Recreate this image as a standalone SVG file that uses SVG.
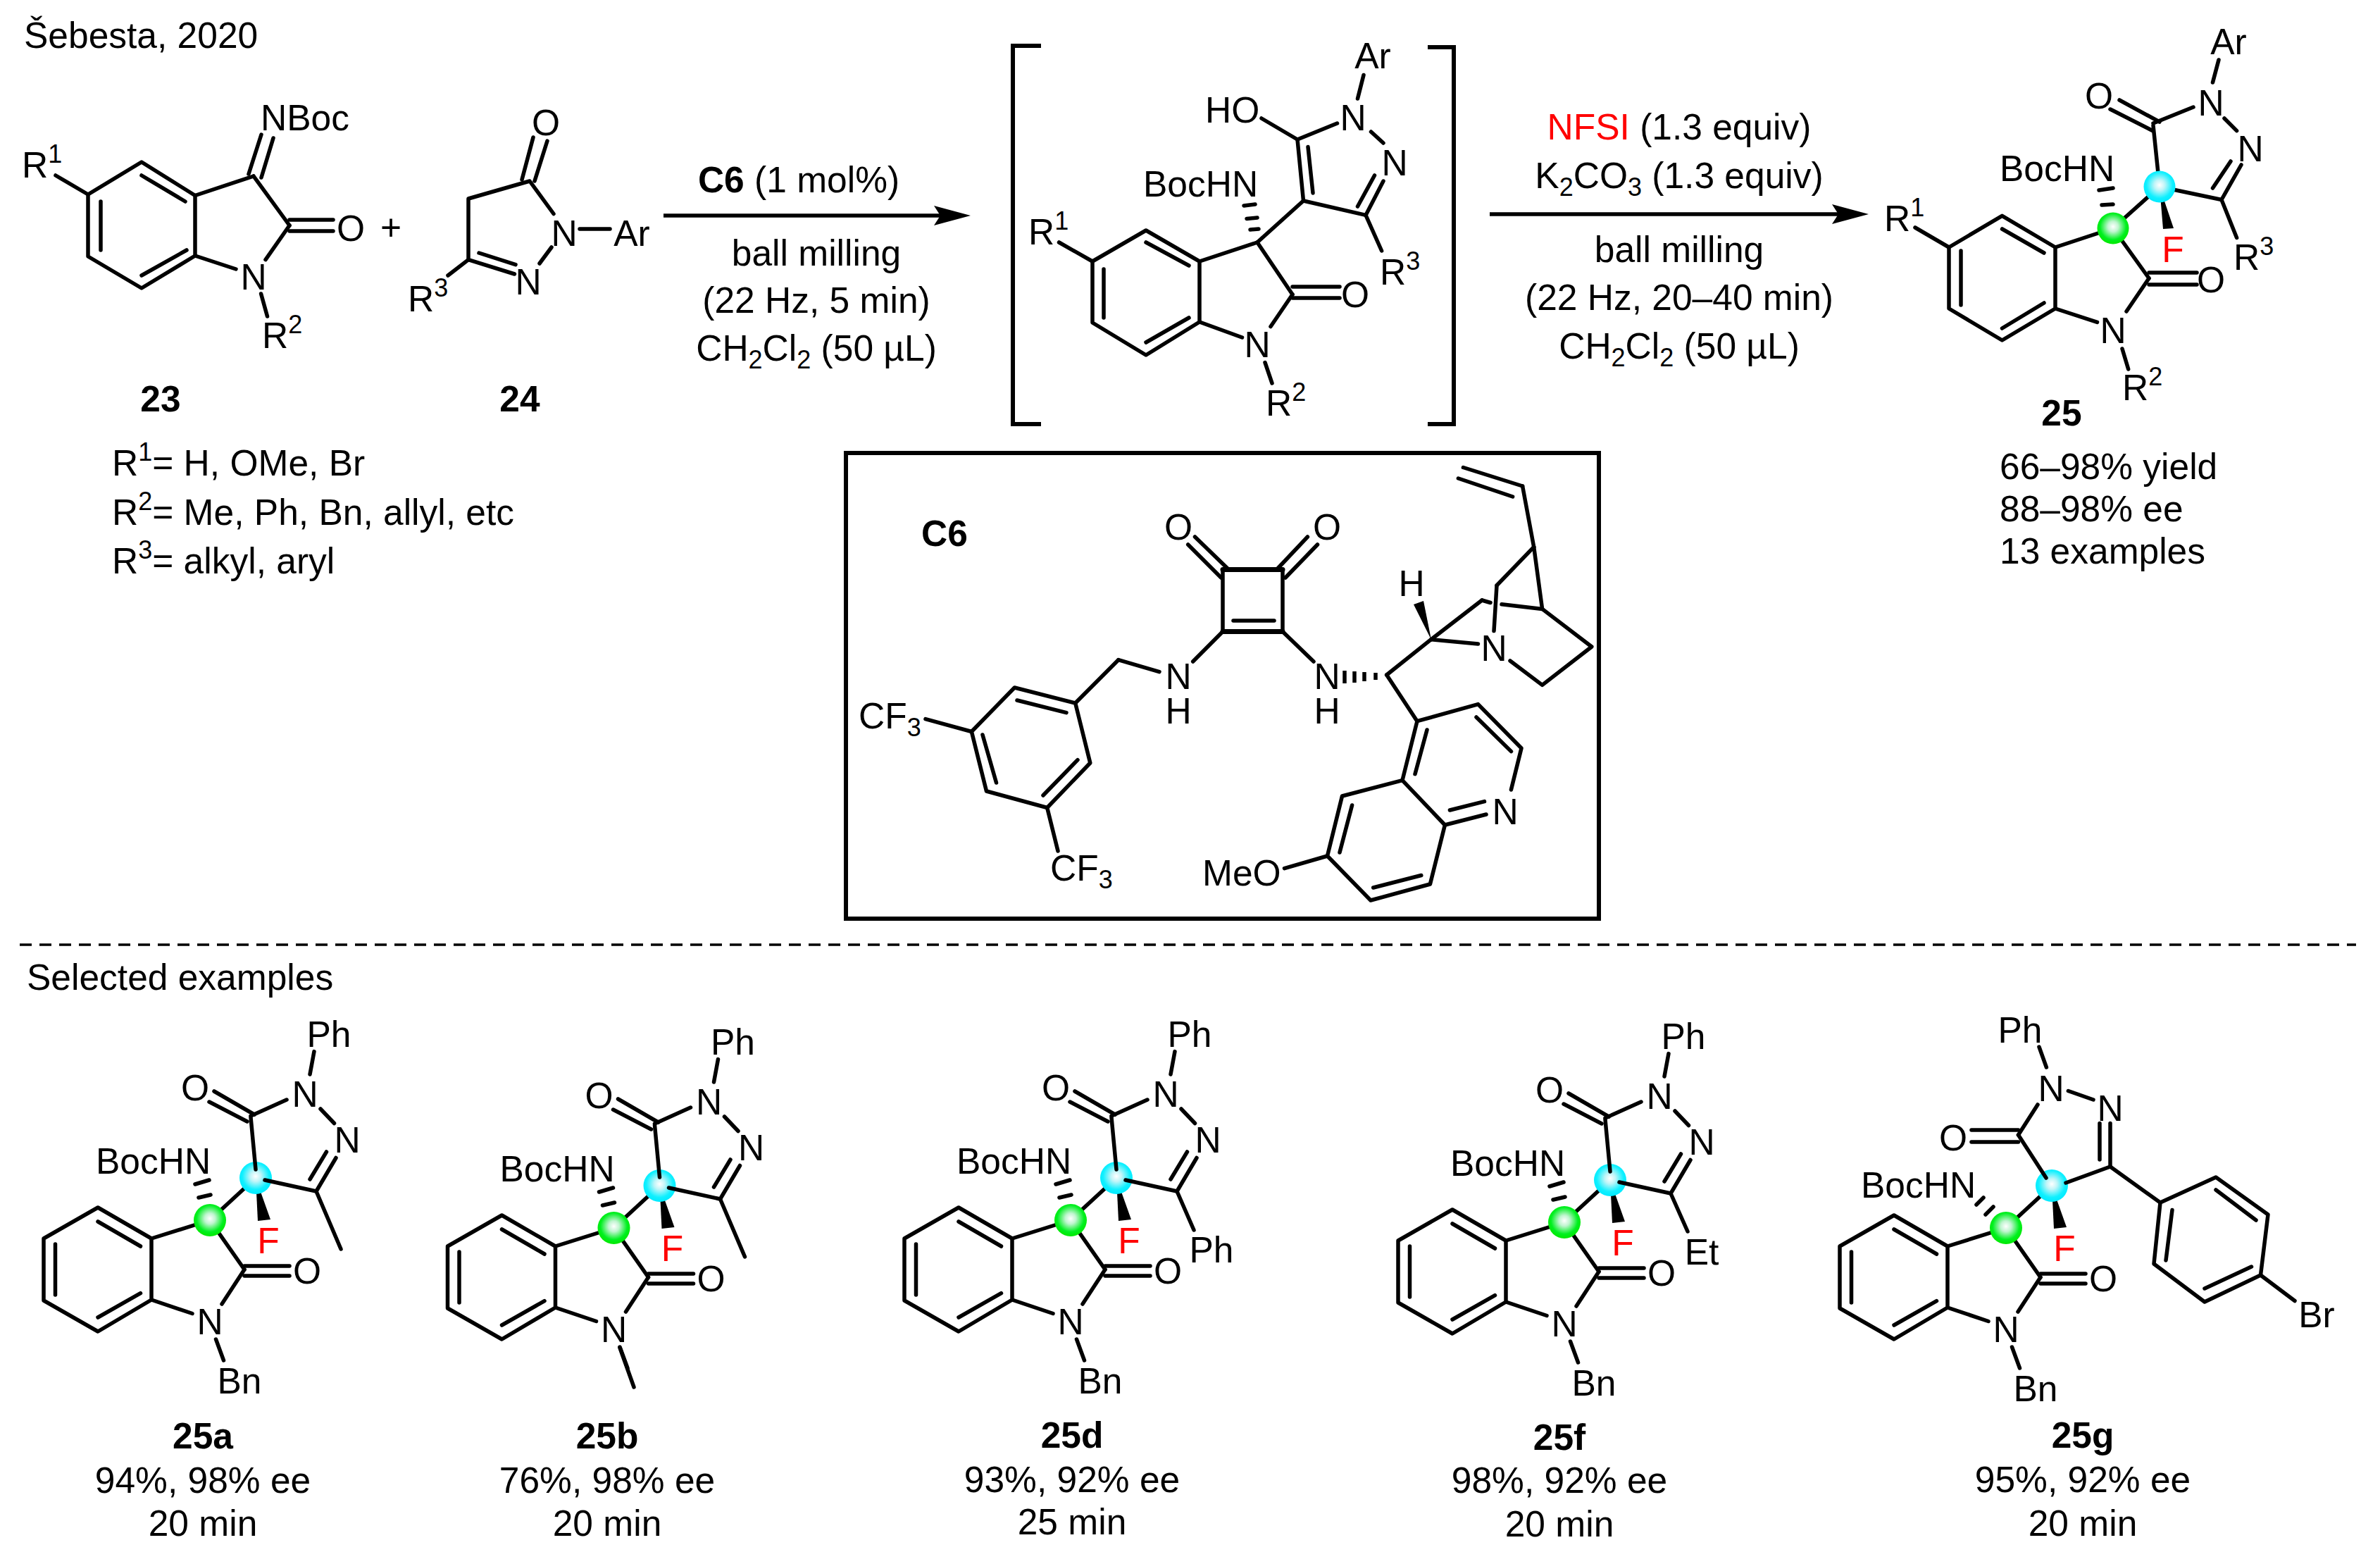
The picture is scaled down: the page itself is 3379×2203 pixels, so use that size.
<svg xmlns="http://www.w3.org/2000/svg" xmlns:xlink="http://www.w3.org/1999/xlink" width="3379" height="2203" viewBox="0 0 3379 2203">
<style>
text{font-family:"Liberation Sans",Arial,sans-serif;font-size:51.500px;fill:#000}
.m{text-anchor:middle}
.b{font-weight:bold}
.r{fill:#f00}
.s{font-size:36px}
.bond line,.bond polyline,.bond polygon,.bond path{stroke:#000;stroke-width:5.500;fill:none;stroke-linecap:round;stroke-linejoin:round}
</style>
<defs>
<radialGradient id="gGreen" cx="0.5" cy="0.45" r="0.55"><stop offset="0" stop-color="#fff"/><stop offset="0.3" stop-color="#c0f5d0"/><stop offset="0.75" stop-color="#00f020"/><stop offset="1" stop-color="#00e800"/></radialGradient>
<radialGradient id="gCyan" cx="0.5" cy="0.45" r="0.55"><stop offset="0" stop-color="#fff"/><stop offset="0.3" stop-color="#c0f5f8"/><stop offset="0.75" stop-color="#10f0ff"/><stop offset="1" stop-color="#00eaff"/></radialGradient>
<marker id="arrow" markerUnits="userSpaceOnUse" markerWidth="54" markerHeight="30" refX="14" refY="15" orient="auto"><path d="M0,1 L52,15 L0,29 L9,15 z" fill="#000"/></marker>
<g id="core" class="bond">
<polygon points="139,1714 215,1758 215,1845 139,1890 62,1846 62,1758"/>
<line x1="139" y1="1734" x2="199.500" y2="1769"/><line x1="78.500" y1="1766" x2="78.500" y2="1838"/><line x1="139" y1="1870" x2="199.500" y2="1835.600"/>
<line x1="215" y1="1758" x2="298" y2="1732"/><line x1="298" y1="1732" x2="347" y2="1802"/><line x1="298" y1="1732" x2="363" y2="1672"/>
<line x1="347" y1="1797" x2="411" y2="1797"/><line x1="347" y1="1811" x2="411" y2="1811"/>
<line x1="347" y1="1802" x2="315" y2="1851"/><line x1="215" y1="1845" x2="273" y2="1864.500"/>
<line x1="306.500" y1="1901" x2="317.500" y2="1931"/>
<polygon style="fill:#000;stroke:none" points="363,1672 366,1733 384,1731"/>
<circle cx="298" cy="1732" r="23" style="fill:url(#gGreen);stroke:none"/>
<circle cx="363" cy="1672" r="23" style="fill:url(#gCyan);stroke:none"/>
</g>
<g id="pyr" class="bond">
<line x1="356" y1="1586" x2="363" y2="1660"/><line x1="376" y1="1675" x2="449" y2="1691"/>
<line x1="304" y1="1549" x2="361" y2="1582"/><line x1="297" y1="1564" x2="351" y2="1592"/>
<line x1="356" y1="1584" x2="407" y2="1561"/><line x1="455" y1="1574" x2="474.500" y2="1594.500"/>
<line x1="449" y1="1691" x2="477" y2="1643.500"/><line x1="440" y1="1674" x2="463.500" y2="1635"/>
<line x1="440" y1="1525" x2="446" y2="1492.600"/>
<line x1="277" y1="1681" x2="297" y2="1675"/><line x1="282" y1="1700" x2="299" y2="1696"/>
</g>
</defs>
<rect width="3379" height="2203" fill="#fff"/>

<g id="header"><text x="34" y="68">Šebesta, 2020</text></g>

<g id="compound-23">
<g class="bond">
<polygon points="201,230 277,277.500 277,363 201,409 125,364 125,276"/>
<line x1="201" y1="249" x2="263" y2="286"/><line x1="143" y1="286" x2="143" y2="355"/><line x1="201" y1="391" x2="265" y2="355"/>
<line x1="79" y1="249" x2="125" y2="276"/><line x1="277" y1="277.500" x2="360" y2="250"/><line x1="360" y1="250" x2="411" y2="320"/>
<line x1="353" y1="247" x2="371" y2="191"/><line x1="371" y1="252" x2="388" y2="196"/>
<line x1="411" y1="312" x2="473" y2="312"/><line x1="411" y1="328" x2="473" y2="328"/>
<line x1="411" y1="320" x2="377" y2="368.600"/><line x1="277" y1="363" x2="335" y2="382"/><line x1="370.600" y1="417" x2="379.500" y2="449"/>
</g>
<text x="31" y="252">R<tspan class="s" dy="-21">1</tspan></text>
<text x="370" y="185">NBoc</text>
<text x="498" y="342" class="m">O</text>
<text x="360" y="411" class="m">N</text>
<text x="372" y="494">R<tspan class="s" dy="-21">2</tspan></text>
<text x="228" y="584" class="m b">23</text>
</g>
<g id="plus"><text x="555" y="341" class="m">+</text></g>
<g id="compound-24">
<g class="bond">
<line x1="757" y1="195" x2="741" y2="255"/><line x1="777" y1="200" x2="759" y2="257"/>
<polyline points="786,303.500 752,257 665,282 665,368.600 730.500,389"/>
<line x1="680" y1="359" x2="732" y2="375.600"/>
<line x1="823" y1="325" x2="866" y2="325"/><line x1="783" y1="351" x2="766" y2="374"/><line x1="665" y1="368.600" x2="636" y2="391"/>
</g>
<text x="775" y="192" class="m">O</text>
<text x="801" y="349" class="m">N</text>
<text x="897" y="349" class="m">Ar</text>
<text x="750" y="418" class="m">N</text>
<text x="579" y="442">R<tspan class="s" dy="-21">3</tspan></text>
<text x="738" y="584" class="m b">24</text>
</g>
<g id="r-groups">
<text x="159" y="675">R<tspan class="s" dy="-21">1</tspan><tspan dy="21">= H, OMe, Br</tspan></text>
<text x="159" y="745">R<tspan class="s" dy="-21">2</tspan><tspan dy="21">= Me, Ph, Bn, allyl, etc</tspan></text>
<text x="159" y="814">R<tspan class="s" dy="-21">3</tspan><tspan dy="21">= alkyl, aryl</tspan></text>
</g>

<g id="connectors">
<line x1="942" y1="306" x2="1340" y2="306" stroke="#000" stroke-width="5.500" marker-end="url(#arrow)"/>
<line x1="2115" y1="304" x2="2615" y2="304" stroke="#000" stroke-width="5.500" marker-end="url(#arrow)"/>
</g>
<g id="conditions-1">
<text x="1134" y="273" class="m"><tspan class="b">C6</tspan> (1 mol%)</text>
<text x="1159" y="377" class="m">ball milling</text>
<text x="1159" y="444" class="m">(22 Hz, 5 min)</text>
<text x="1159" y="512" class="m">CH<tspan class="s" dy="11">2</tspan><tspan dy="-11">Cl</tspan><tspan class="s" dy="11">2</tspan><tspan dy="-11"> (50 µL)</tspan></text>
</g>
<g id="conditions-2">
<text x="2384" y="198" class="m"><tspan class="r">NFSI</tspan> (1.3 equiv)</text>
<text x="2384" y="267" class="m">K<tspan class="s" dy="11">2</tspan><tspan dy="-11">CO</tspan><tspan class="s" dy="11">3</tspan><tspan dy="-11"> (1.3 equiv)</tspan></text>
<text x="2384" y="372" class="m">ball milling</text>
<text x="2384" y="440" class="m">(22 Hz, 20–40 min)</text>
<text x="2384" y="509" class="m">CH<tspan class="s" dy="11">2</tspan><tspan dy="-11">Cl</tspan><tspan class="s" dy="11">2</tspan><tspan dy="-11"> (50 µL)</tspan></text>
</g>

<g id="intermediate">
<path d="M1478,65 H1438 V602 H1478 M2027,67 H2064 V602 H2027" fill="none" stroke="#000" stroke-width="6"/>
<g class="bond">
<polygon points="1627,327 1703,371 1703,457 1627,504 1551,458 1551,371"/>
<line x1="1627" y1="344" x2="1688" y2="377"/><line x1="1567" y1="382" x2="1567" y2="451"/><line x1="1627" y1="486" x2="1688" y2="451"/>
<line x1="1503.500" y1="344" x2="1551" y2="371"/><line x1="1703" y1="371" x2="1785" y2="344"/><line x1="1785" y1="344" x2="1835" y2="418"/>
<line x1="1766" y1="292" x2="1782" y2="290"/><line x1="1770" y1="310.500" x2="1785" y2="309"/><line x1="1775" y1="326" x2="1787" y2="325"/>
<line x1="1835" y1="407" x2="1902" y2="407"/><line x1="1835" y1="423" x2="1902" y2="423"/>
<line x1="1835" y1="418" x2="1804" y2="463.500"/><line x1="1703" y1="457" x2="1763.500" y2="479"/><line x1="1796" y1="514.500" x2="1806" y2="544"/>
<line x1="1785" y1="344" x2="1850.500" y2="285"/><line x1="1850.500" y1="285" x2="1842" y2="198"/><line x1="1857" y1="208.500" x2="1864" y2="274"/>
<line x1="1791" y1="168" x2="1842" y2="198"/><line x1="1842" y1="198" x2="1898.500" y2="175"/>
<line x1="1927.500" y1="140" x2="1936" y2="106.500"/><line x1="1946.500" y1="187" x2="1964" y2="203"/>
<line x1="1850.500" y1="285" x2="1939" y2="305.400"/><line x1="1939" y1="305.400" x2="1964" y2="257"/><line x1="1927.500" y1="293" x2="1951.500" y2="249"/>
<line x1="1939" y1="305.400" x2="1961.600" y2="356"/>
</g>
<text x="1460" y="347">R<tspan class="s" dy="-21">1</tspan></text>
<text x="1623" y="279">BocHN</text>
<text x="1924" y="436" class="m">O</text>
<text x="1785" y="507" class="m">N</text>
<text x="1797" y="590">R<tspan class="s" dy="-21">2</tspan></text>
<text x="1711" y="174">HO</text>
<text x="1921" y="185" class="m">N</text>
<text x="1949" y="97" class="m">Ar</text>
<text x="1980" y="249" class="m">N</text>
<text x="1959" y="404">R<tspan class="s" dy="-21">3</tspan></text>
</g>

<g id="product-25">
<g class="bond">
<polygon points="2842.500,306.400 2918,351 2918,438 2842.500,483 2767,438 2767,351"/>
<line x1="2842.500" y1="325" x2="2902" y2="359"/><line x1="2784" y1="356" x2="2784" y2="433"/><line x1="2842.500" y1="466" x2="2902" y2="430"/>
<line x1="2719" y1="323" x2="2767" y2="351"/><line x1="2918" y1="351" x2="3000" y2="324"/><line x1="3000" y1="324" x2="3051" y2="395"/><line x1="3000" y1="324" x2="3066" y2="265"/>
<line x1="2980" y1="270" x2="3000" y2="267"/><line x1="2984" y1="291" x2="3000" y2="290"/>
<line x1="3051" y1="387" x2="3119" y2="387"/><line x1="3051" y1="404" x2="3119" y2="404"/>
<line x1="3051" y1="395" x2="3019" y2="442"/><line x1="2918" y1="438" x2="2977.500" y2="457.400"/><line x1="3013" y1="495" x2="3021.700" y2="524"/>
<line x1="3066" y1="265" x2="3057" y2="178"/><line x1="3009" y1="142" x2="3066" y2="173"/><line x1="2996" y1="155" x2="3056" y2="185.500"/>
<line x1="3057" y1="175" x2="3114" y2="152"/><line x1="3141.500" y1="117" x2="3150" y2="85"/><line x1="3158" y1="168" x2="3175.600" y2="185.600"/>
<line x1="3066" y1="265" x2="3154" y2="283.500"/><line x1="3154" y1="283.500" x2="3182" y2="234"/><line x1="3141.500" y1="267" x2="3167" y2="229"/>
<line x1="3154" y1="283.500" x2="3175.600" y2="337.500"/>
<polygon style="fill:#000;stroke:none" points="3066,265 3071,325 3086,324"/>
<circle cx="3000" cy="324" r="22.500" style="fill:url(#gGreen);stroke:none"/>
<circle cx="3066" cy="265" r="22.500" style="fill:url(#gCyan);stroke:none"/>
</g>
<text x="2675" y="328">R<tspan class="s" dy="-21">1</tspan></text>
<text x="2839" y="257">BocHN</text>
<text x="3139" y="415" class="m">O</text>
<text x="3000" y="487" class="m">N</text>
<text x="3013" y="568">R<tspan class="s" dy="-21">2</tspan></text>
<text x="2980" y="154" class="m">O</text>
<text x="3139" y="164" class="m">N</text>
<text x="3164" y="77" class="m">Ar</text>
<text x="3195" y="229" class="m">N</text>
<text x="3171" y="383">R<tspan class="s" dy="-21">3</tspan></text>
<text x="3085" y="372" class="m r">F</text>
<text x="2927" y="604" class="m b">25</text>
<text x="2839" y="680">66–98% yield</text>
<text x="2839" y="740">88–98% ee</text>
<text x="2839" y="800">13 examples</text>
</g>

<g id="catalyst-C6">
<rect x="1201" y="643" width="1069" height="661" fill="none" stroke="#000" stroke-width="6"/>
<g class="bond">
<polygon points="1736,808.600 1821,808.600 1821,896.500 1736,896.500"/>
<line x1="1736" y1="808.600" x2="1821" y2="808.600" style="stroke-width:7"/><line x1="1736" y1="896.500" x2="1821" y2="896.500" style="stroke-width:7"/>
<line x1="1751" y1="881" x2="1809" y2="881"/>
<line x1="1696.500" y1="762" x2="1744" y2="808"/><line x1="1686.700" y1="773" x2="1733.700" y2="820"/>
<line x1="1856.400" y1="762" x2="1813" y2="808"/><line x1="1870.500" y1="773" x2="1825" y2="820"/>
<line x1="1736" y1="896.500" x2="1693.700" y2="939"/><line x1="1646" y1="953.600" x2="1587.800" y2="936.700"/><line x1="1587.800" y1="936.700" x2="1526.700" y2="998"/>
<polygon points="1526.700,998 1440.400,976 1379.400,1038.500 1400.500,1123 1486.700,1146.500 1547.800,1083"/>
<line x1="1514" y1="1011.700" x2="1444" y2="994"/><line x1="1395" y1="1043" x2="1414.500" y2="1111"/><line x1="1481" y1="1129" x2="1530" y2="1078.600"/>
<line x1="1379.400" y1="1038.500" x2="1314" y2="1020.600"/><line x1="1486.700" y1="1146.500" x2="1502" y2="1208"/>
<line x1="1821" y1="896.500" x2="1865" y2="939"/>
<line x1="1909" y1="952" x2="1909" y2="970" style="stroke-linecap:butt"/><line x1="1923" y1="953" x2="1923" y2="969" style="stroke-linecap:butt"/><line x1="1937" y1="954" x2="1937" y2="967" style="stroke-linecap:butt"/><line x1="1953" y1="955" x2="1953" y2="965" style="stroke-linecap:butt"/>
<line x1="1968.700" y1="958" x2="2031.800" y2="907.700"/><line x1="1968.700" y1="958" x2="2012" y2="1023.700"/>
<polygon style="fill:#000;stroke:none" points="2032,908 2007,858 2021,853"/>
<line x1="2031.800" y1="907.700" x2="2104" y2="852"/><line x1="2104" y1="852" x2="2116" y2="855.500"/><line x1="2132" y1="857.700" x2="2189.600" y2="864.400"/>
<line x1="2031.800" y1="907.700" x2="2098.500" y2="914"/>
<line x1="2177.700" y1="776.400" x2="2125" y2="831"/><line x1="2125" y1="831" x2="2121" y2="895.600"/><line x1="2177.700" y1="776.400" x2="2189.600" y2="864.400"/>
<line x1="2161.600" y1="690" x2="2177.700" y2="776.400"/><line x1="2161.600" y1="690" x2="2077.400" y2="663.500"/><line x1="2147.600" y1="705" x2="2070.400" y2="679"/>
<polyline points="2189.600,864.400 2259.800,918 2189.600,972.400 2144,938"/>
<polyline points="1991,1107.700 2012,1023.700 2098.500,999.600 2160,1062 2145.400,1121"/>
<line x1="2096" y1="1018" x2="2145.500" y2="1066.600"/>
<line x1="2110" y1="1156" x2="2051.400" y2="1171"/><line x1="2107.500" y1="1137.600" x2="2058.400" y2="1150"/>
<line x1="2051.400" y1="1171" x2="1991" y2="1107.700"/><line x1="2009" y1="1098.700" x2="2026" y2="1036"/>
<polyline points="1991,1107.700 1905.500,1130 1884.500,1215 1946,1278 2030.400,1255 2051.400,1171"/>
<line x1="1919.600" y1="1143" x2="1902" y2="1210"/><line x1="1949.700" y1="1260" x2="2017.800" y2="1242.500"/>
<line x1="1884.500" y1="1215" x2="1823.500" y2="1232.600"/>
</g>
<text x="1341" y="775" class="m b">C6</text>
<text x="1673" y="766" class="m">O</text>
<text x="1884" y="766" class="m">O</text>
<text class="m"><tspan x="1673" y="978">N</tspan><tspan x="1673" y="1027">H</tspan></text>
<text class="m"><tspan x="1884" y="978">N</tspan><tspan x="1884" y="1027">H</tspan></text>
<text x="2004" y="846" class="m">H</text>
<text x="2121" y="938" class="m">N</text>
<text x="2137" y="1170" class="m">N</text>
<text x="1219" y="1034">CF<tspan class="s" dy="11">3</tspan></text>
<text x="1491" y="1250">CF<tspan class="s" dy="11">3</tspan></text>
<text x="1707" y="1257">MeO</text>
</g>

<g id="divider"><line x1="28" y1="1341" x2="3345" y2="1341" stroke="#000" stroke-width="3.500" stroke-dasharray="17 11"/></g>
<g id="selected"><text x="38" y="1405">Selected examples</text></g>

<g id="ex-25a">
<g transform="translate(0,0)">
<use href="#core" xlink:href="#core"/><use href="#pyr" xlink:href="#pyr"/>
<g class="bond"><line x1="449" y1="1691" x2="484" y2="1773"/></g>
<text x="136" y="1666">BocHN</text><text x="277" y="1562" class="m">O</text><text x="433" y="1571" class="m">N</text><text x="493" y="1636" class="m">N</text><text x="467" y="1486" class="m">Ph</text><text x="381" y="1779" class="m r">F</text><text x="436" y="1822" class="m">O</text><text x="298" y="1894" class="m">N</text><text x="340" y="1978" class="m">Bn</text>
</g>
<text x="288" y="2056" class="m b">25a</text><text x="288" y="2119" class="m">94%, 98% ee</text><text x="288" y="2180" class="m">20 min</text>
</g>

<g id="ex-25b">
<g transform="translate(573.500,11)">
<use href="#core" xlink:href="#core"/><use href="#pyr" xlink:href="#pyr"/>
<g class="bond"><line x1="449" y1="1691" x2="484" y2="1773"/><line x1="306.500" y1="1902" x2="326.500" y2="1958"/></g>
<text x="136" y="1666">BocHN</text><text x="277" y="1562" class="m">O</text><text x="433" y="1571" class="m">N</text><text x="493" y="1636" class="m">N</text><text x="467" y="1486" class="m">Ph</text><text x="381" y="1779" class="m r">F</text><text x="436" y="1822" class="m">O</text><text x="298" y="1894" class="m">N</text>
</g>
<text x="862" y="2056" class="m b">25b</text><text x="862" y="2119" class="m">76%, 98% ee</text><text x="862" y="2180" class="m">20 min</text>
</g>

<g id="ex-25d">
<g transform="translate(1222,0)">
<use href="#core" xlink:href="#core"/><use href="#pyr" xlink:href="#pyr"/>
<g class="bond"><line x1="449" y1="1691" x2="473" y2="1746"/></g>
<text x="136" y="1666">BocHN</text><text x="277" y="1562" class="m">O</text><text x="433" y="1571" class="m">N</text><text x="493" y="1636" class="m">N</text><text x="467" y="1486" class="m">Ph</text><text x="498" y="1792" class="m">Ph</text><text x="381" y="1779" class="m r">F</text><text x="436" y="1822" class="m">O</text><text x="298" y="1894" class="m">N</text><text x="340" y="1978" class="m">Bn</text>
</g>
<text x="1522" y="2055" class="m b">25d</text><text x="1522" y="2118" class="m">93%, 92% ee</text><text x="1522" y="2178" class="m">25 min</text>
</g>

<g id="ex-25f">
<g transform="translate(1923,3)">
<use href="#core" xlink:href="#core"/><use href="#pyr" xlink:href="#pyr"/>
<g class="bond"><line x1="449" y1="1691" x2="473" y2="1745"/></g>
<text x="136" y="1666">BocHN</text><text x="277" y="1562" class="m">O</text><text x="433" y="1571" class="m">N</text><text x="493" y="1636" class="m">N</text><text x="467" y="1486" class="m">Ph</text><text x="493" y="1792" class="m">Et</text><text x="381" y="1779" class="m r">F</text><text x="436" y="1822" class="m">O</text><text x="298" y="1894" class="m">N</text><text x="340" y="1978" class="m">Bn</text>
</g>
<text x="2214" y="2058" class="m b">25f</text><text x="2214" y="2119" class="m">98%, 92% ee</text><text x="2214" y="2181" class="m">20 min</text>
</g>

<g id="ex-25g">
<g transform="translate(2550,11)"><use href="#core" xlink:href="#core"/></g>
<g class="bond">
<line x1="2806" y1="1710" x2="2816" y2="1700"/><line x1="2819" y1="1724" x2="2830" y2="1713"/>
<line x1="2865.500" y1="1611" x2="2905" y2="1672"/>
<line x1="2799" y1="1604" x2="2865.500" y2="1604"/><line x1="2799" y1="1621" x2="2865.500" y2="1621"/>
<line x1="2865.500" y1="1611" x2="2893" y2="1568"/><line x1="2905.400" y1="1515" x2="2895" y2="1486"/>
<line x1="2936.400" y1="1548.500" x2="2972" y2="1561"/>
<line x1="2996" y1="1594.600" x2="2996" y2="1656"/><line x1="2981" y1="1594.600" x2="2981" y2="1646"/>
<line x1="2933" y1="1679" x2="2996" y2="1656"/><line x1="2996" y1="1656" x2="3067" y2="1707"/>
<polygon points="3067,1707 3146,1671 3220,1724 3209.500,1810 3130,1848 3058,1794"/>
<line x1="3084" y1="1717.500" x2="3075" y2="1789"/><line x1="3146" y1="1689" x2="3203" y2="1732"/><line x1="3196.500" y1="1798" x2="3130" y2="1829"/>
<line x1="3209.500" y1="1810" x2="3258" y2="1846.500"/>
</g>
<text x="2642" y="1700">BocHN</text>
<text x="2773" y="1633" class="m">O</text><text x="2912" y="1563" class="m">N</text><text x="2996" y="1591" class="m">N</text>
<text x="2868" y="1480" class="m">Ph</text><text x="3289" y="1884" class="m">Br</text>
<text x="2931" y="1790" class="m r">F</text><text x="2986" y="1833" class="m">O</text><text x="2848" y="1905" class="m">N</text><text x="2890" y="1989" class="m">Bn</text>
<text x="2957" y="2055" class="m b">25g</text><text x="2957" y="2118" class="m">95%, 92% ee</text><text x="2957" y="2180" class="m">20 min</text>
</g>
</svg>
